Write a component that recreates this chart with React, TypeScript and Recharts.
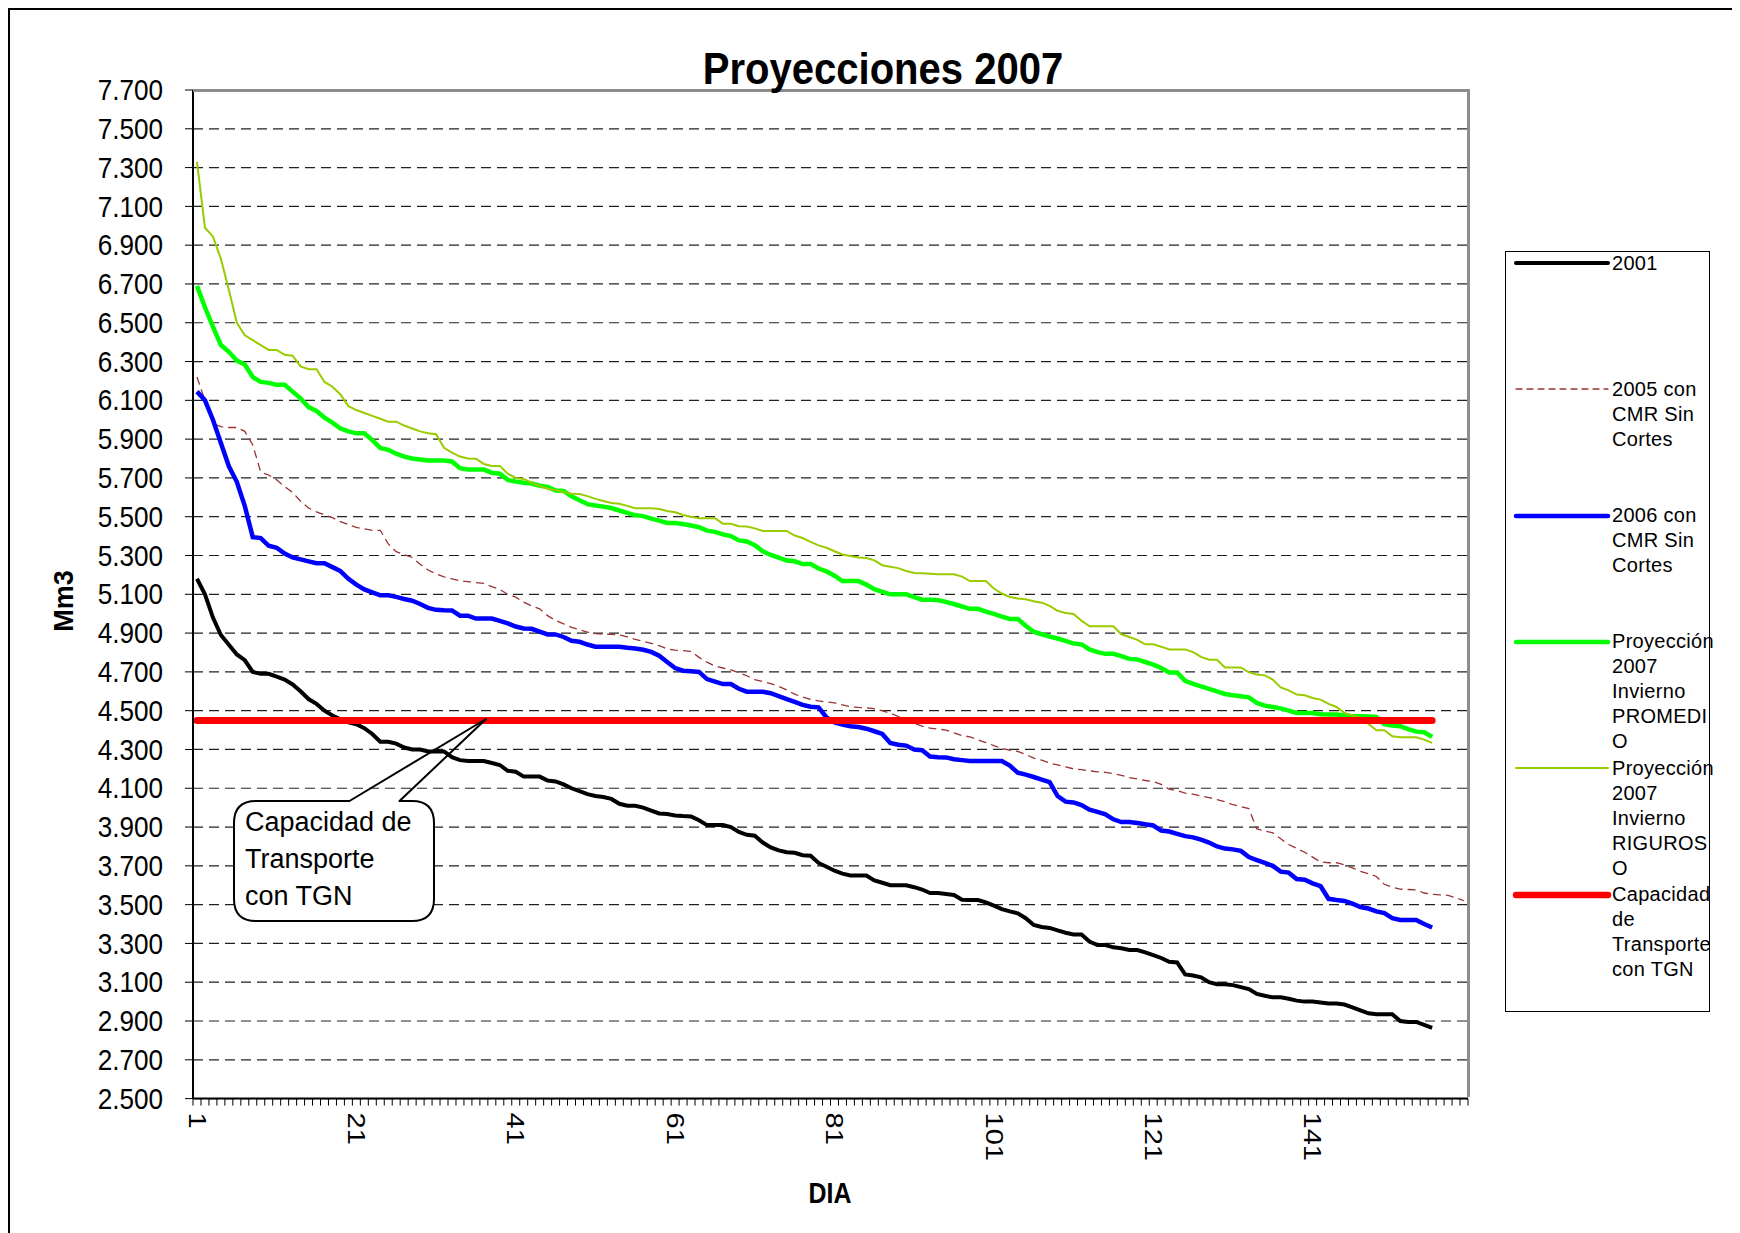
import React from "react";
import { CartesianGrid, Line, LineChart, XAxis, YAxis } from "recharts";

// Curvas de demanda ordenadas (Mm3 por día)
const SERIE_2001 = [
  5.18, 5.1, 4.98, 4.89, 4.84, 4.79, 4.76, 4.7, 4.69, 4.69,
  4.675, 4.66, 4.635, 4.6, 4.56, 4.535, 4.5, 4.475, 4.455, 4.44,
  4.43, 4.41, 4.38, 4.34, 4.34, 4.33, 4.31, 4.3, 4.3, 4.29,
  4.29, 4.29, 4.26, 4.245, 4.24, 4.24, 4.24, 4.23, 4.22, 4.19,
  4.185, 4.16, 4.16, 4.16, 4.14, 4.135, 4.12, 4.1, 4.085, 4.07,
  4.06, 4.055, 4.045, 4.02, 4.01, 4.01, 4.0, 3.985, 3.97, 3.967,
  3.96, 3.957, 3.955, 3.935, 3.91, 3.91, 3.91, 3.9, 3.875, 3.86,
  3.855, 3.82, 3.795, 3.78, 3.77, 3.767, 3.755, 3.752, 3.715, 3.695,
  3.675, 3.66, 3.65, 3.65, 3.65, 3.625, 3.613, 3.6, 3.6, 3.6,
  3.59, 3.578, 3.56, 3.56, 3.555, 3.55, 3.525, 3.524, 3.524, 3.512,
  3.495, 3.477, 3.465, 3.455, 3.43, 3.395, 3.385, 3.38, 3.367, 3.355,
  3.346, 3.346, 3.31, 3.292, 3.292, 3.28, 3.275, 3.266, 3.266, 3.254,
  3.24, 3.225, 3.205, 3.202, 3.14, 3.135, 3.125, 3.1, 3.09, 3.09,
  3.085, 3.075, 3.065, 3.04, 3.03, 3.022, 3.022, 3.015, 3.005, 3.0,
  3.0, 2.995, 2.99, 2.99, 2.985, 2.97, 2.955, 2.94, 2.935, 2.935,
  2.935, 2.9, 2.895, 2.895, 2.88, 2.865,
];

const SERIE_2005 = [
  6.22, 6.1, 5.98, 5.965, 5.96, 5.96, 5.94, 5.87, 5.73, 5.715,
  5.69, 5.655, 5.625, 5.58, 5.545, 5.525, 5.51, 5.495, 5.475, 5.46,
  5.445, 5.437, 5.43, 5.43, 5.36, 5.32, 5.305, 5.29, 5.255, 5.225,
  5.205, 5.19, 5.18, 5.17, 5.165, 5.16, 5.156, 5.14, 5.125, 5.1,
  5.085, 5.06, 5.04, 5.025, 4.99, 4.965, 4.948, 4.93, 4.918, 4.905,
  4.897, 4.895, 4.893, 4.89, 4.88, 4.868, 4.857, 4.847, 4.835, 4.818,
  4.812, 4.81, 4.806, 4.775, 4.75, 4.73, 4.72, 4.71, 4.695, 4.68,
  4.66, 4.65, 4.64, 4.625, 4.607, 4.585, 4.57, 4.558, 4.55, 4.545,
  4.54, 4.53, 4.52, 4.517, 4.515, 4.51, 4.5, 4.487, 4.47, 4.455,
  4.435, 4.42, 4.41, 4.405, 4.4, 4.385, 4.372, 4.365, 4.35, 4.335,
  4.32, 4.305, 4.297, 4.29, 4.275, 4.255, 4.245, 4.23, 4.22, 4.21,
  4.2, 4.196, 4.19, 4.185, 4.182, 4.175, 4.167, 4.155, 4.148, 4.14,
  4.135, 4.12, 4.095, 4.088, 4.075, 4.07, 4.06, 4.052, 4.042, 4.03,
  4.015, 4.005, 3.995, 3.89, 3.88, 3.87, 3.84, 3.81, 3.79, 3.77,
  3.745, 3.72, 3.716, 3.716, 3.705, 3.69, 3.672, 3.66, 3.645, 3.605,
  3.59, 3.58, 3.578, 3.576, 3.56, 3.553, 3.55, 3.548, 3.535, 3.52,
];

const SERIE_2006 = [
  6.145, 6.1, 6.0, 5.88, 5.76, 5.68, 5.555, 5.395, 5.39, 5.35,
  5.34, 5.31, 5.29, 5.28, 5.27, 5.26, 5.26, 5.24, 5.22, 5.18,
  5.15, 5.125, 5.11, 5.095, 5.095, 5.087, 5.076, 5.067, 5.05, 5.03,
  5.02, 5.018, 5.017, 4.99, 4.99, 4.975, 4.975, 4.975, 4.963, 4.95,
  4.934, 4.924, 4.922, 4.907, 4.893, 4.893, 4.88, 4.86, 4.855, 4.841,
  4.83, 4.83, 4.83, 4.83, 4.824, 4.82, 4.814, 4.803, 4.783, 4.751,
  4.72, 4.706, 4.703, 4.7, 4.663, 4.65, 4.637, 4.637, 4.613, 4.598,
  4.598, 4.598, 4.59, 4.575, 4.56, 4.545, 4.53, 4.52, 4.517, 4.465,
  4.44, 4.428, 4.42, 4.416, 4.407, 4.394, 4.38, 4.333, 4.324, 4.32,
  4.3, 4.296, 4.264, 4.26, 4.259, 4.25, 4.245, 4.24, 4.24, 4.24,
  4.24, 4.24, 4.217, 4.18, 4.17, 4.158, 4.145, 4.132, 4.06, 4.031,
  4.027, 4.013, 3.99, 3.978, 3.966, 3.94, 3.926, 3.926, 3.921, 3.914,
  3.908, 3.882, 3.877, 3.865, 3.853, 3.847, 3.835, 3.82, 3.8, 3.789,
  3.785, 3.777, 3.745, 3.73, 3.715, 3.7, 3.67, 3.665, 3.632, 3.628,
  3.61, 3.595, 3.53, 3.524, 3.519, 3.505, 3.488, 3.48, 3.465, 3.456,
  3.43, 3.421, 3.421, 3.421, 3.4, 3.382,
];

const PROMEDIO_2007 = [
  6.69, 6.58, 6.48, 6.385, 6.35, 6.305, 6.285, 6.22, 6.195, 6.19,
  6.18, 6.18, 6.145, 6.11, 6.065, 6.045, 6.01, 5.985, 5.955, 5.94,
  5.93, 5.93, 5.895, 5.855, 5.845, 5.825, 5.81, 5.8, 5.795, 5.79,
  5.79, 5.79, 5.785, 5.75, 5.743, 5.743, 5.743, 5.727, 5.722, 5.69,
  5.681, 5.675, 5.671, 5.66, 5.654, 5.635, 5.633, 5.605, 5.585, 5.565,
  5.558, 5.552, 5.545, 5.532, 5.52, 5.507, 5.503, 5.49, 5.48, 5.468,
  5.467, 5.462, 5.455, 5.446, 5.428, 5.422, 5.409, 5.4, 5.378, 5.372,
  5.353, 5.322, 5.303, 5.289, 5.274, 5.27, 5.256, 5.256, 5.233, 5.218,
  5.196, 5.168, 5.168, 5.168, 5.15, 5.126, 5.113, 5.1, 5.1, 5.1,
  5.085, 5.072, 5.072, 5.07, 5.06, 5.05, 5.037, 5.025, 5.025, 5.011,
  4.999, 4.985, 4.973, 4.973, 4.938, 4.907, 4.894, 4.882, 4.872, 4.86,
  4.846, 4.842, 4.816, 4.802, 4.793, 4.793, 4.781, 4.767, 4.764, 4.751,
  4.737, 4.72, 4.697, 4.697, 4.654, 4.638, 4.625, 4.612, 4.6, 4.586,
  4.58, 4.574, 4.569, 4.54, 4.526, 4.519, 4.512, 4.5, 4.488, 4.488,
  4.488, 4.482, 4.48, 4.48, 4.475, 4.471, 4.471, 4.47, 4.468, 4.43,
  4.423, 4.42, 4.405, 4.392, 4.389, 4.365,
];

const RIGUROSO_2007 = [
  7.33, 6.99, 6.945, 6.83, 6.67, 6.5, 6.435, 6.41, 6.385, 6.36,
  6.36, 6.335, 6.33, 6.275, 6.26, 6.26, 6.195, 6.17, 6.13, 6.07,
  6.05, 6.035, 6.02, 6.005, 5.99, 5.99, 5.97, 5.955, 5.94, 5.93,
  5.925, 5.855, 5.83, 5.81, 5.8, 5.799, 5.772, 5.762, 5.762, 5.722,
  5.7, 5.695, 5.675, 5.658, 5.644, 5.637, 5.627, 5.619, 5.617, 5.606,
  5.592, 5.581, 5.571, 5.567, 5.556, 5.544, 5.544, 5.544, 5.54, 5.529,
  5.523, 5.509, 5.5, 5.492, 5.492, 5.492, 5.464, 5.464, 5.451, 5.45,
  5.44, 5.427, 5.427, 5.427, 5.427, 5.403, 5.39, 5.37, 5.352, 5.34,
  5.322, 5.305, 5.298, 5.29, 5.287, 5.275, 5.25, 5.242, 5.235, 5.22,
  5.21, 5.209, 5.206, 5.203, 5.203, 5.203, 5.191, 5.168, 5.168, 5.168,
  5.13, 5.104, 5.086, 5.078, 5.074, 5.064, 5.057, 5.04, 5.015, 5.003,
  4.999, 4.964, 4.935, 4.935, 4.935, 4.935, 4.894, 4.88, 4.865, 4.842,
  4.842, 4.83, 4.816, 4.816, 4.816, 4.802, 4.777, 4.763, 4.763, 4.723,
  4.723, 4.723, 4.698, 4.686, 4.682, 4.66, 4.62, 4.605, 4.583, 4.579,
  4.565, 4.557, 4.535, 4.519, 4.488, 4.475, 4.463, 4.433, 4.399, 4.399,
  4.368, 4.363, 4.363, 4.363, 4.351, 4.334,
];

const CAPACIDAD_TGN = 4.45;

const Y_TICKS = [
  2.5, 2.7, 2.9, 3.1, 3.3, 3.5, 3.7, 3.9, 4.1, 4.3, 4.5, 4.7, 4.9, 5.1,
  5.3, 5.5, 5.7, 5.9, 6.1, 6.3, 6.5, 6.7, 6.9, 7.1, 7.3, 7.5, 7.7,
];
const X_LABELS = [1, 21, 41, 61, 81, 101, 121, 141];

const DAY_COUNT = SERIE_2005.length;
const data = SERIE_2005.map((v, i) => ({
  day: i + 1,
  s2001: SERIE_2001[i],
  s2005: v,
  s2006: SERIE_2006[i],
  promedio: PROMEDIO_2007[i],
  riguroso: RIGUROSO_2007[i],
  capacidad: i < SERIE_2001.length ? CAPACIDAD_TGN : undefined,
}));

// tick marks sit between the days, like the original
const X_MARKS = Array.from({ length: DAY_COUNT + 1 }, (_, i) => i + 0.5);

const FONT = "'Liberation Sans', Arial, sans-serif";
const W = 1732;
const H = 1225;
const PLOT = { left: 185, top: 82, right: 1460, bottom: 1090.6 };
const HALF_STEP = (PLOT.right - PLOT.left) / DAY_COUNT / 2;

const LEGEND = [
  { lines: ["2001"], stroke: "#000000", width: 4 },
  { lines: ["2005 con", "CMR Sin", "Cortes"], stroke: "#993333", width: 1.3, dash: "6 5" },
  { lines: ["2006 con", "CMR Sin", "Cortes"], stroke: "#0000ff", width: 4.5 },
  { lines: ["Proyección", "2007", "Invierno", "PROMEDI", "O"], stroke: "#00ff00", width: 4.5 },
  { lines: ["Proyección", "2007", "Invierno", "RIGUROS", "O"], stroke: "#99cc00", width: 2 },
  { lines: ["Capacidad", "de", "Transporte", "con TGN"], stroke: "#ff0000", width: 6.5, round: true },
];

function DayTick(props: any) {
  const { x, y, payload } = props;
  const day = payload.value + 0.5;
  if (!X_LABELS.includes(day)) return <g />;
  return (
    <text
      transform={`translate(${x + HALF_STEP},${y}) rotate(90) scale(1,0.82)`}
      textAnchor="start"
      dy="0.35em"
      fontSize={29}
      fontFamily={FONT}
      fill="#000"
    >
      {day}
    </text>
  );
}

function ValueTick(props: any) {
  const { x, y, payload } = props;
  return (
    <text
      transform={`translate(${x},${y}) scale(0.87,1)`}
      textAnchor="end"
      dominantBaseline="central"
      fontSize={30}
      fontFamily={FONT}
      fill="#000"
    >
      {Number(payload.value).toFixed(3)}
    </text>
  );
}

function Legend() {
  return (
    <div
      style={{
        position: "absolute",
        left: 1497,
        top: 243,
        width: 205,
        height: 761,
        border: "1px solid #000",
        boxSizing: "border-box",
        background: "#fff",
        fontFamily: FONT,
        fontSize: 20,
        letterSpacing: 0.3,
        color: "#000",
      }}
    >
      {LEGEND.map((item, i) => {
        const cy = 11 + i * 126.3;
        return (
          <div key={i}>
            <svg
              width={100}
              height={12}
              style={{ position: "absolute", left: 6, top: cy - 6 }}
            >
              <line
                x1={4}
                x2={96}
                y1={6}
                y2={6}
                stroke={item.stroke}
                strokeWidth={item.width}
                strokeDasharray={item.dash}
                strokeLinecap="round"
              />
            </svg>
            <div
              style={{
                position: "absolute",
                left: 106,
                top: cy - 12.5,
                lineHeight: "25px",
                whiteSpace: "nowrap",
              }}
            >
              {item.lines.map((t, j) => (
                <div key={j}>{t}</div>
              ))}
            </div>
          </div>
        );
      })}
    </div>
  );
}

function Overlay() {
  return (
    <svg
      width={W}
      height={H}
      style={{ position: "absolute", left: 0, top: 0, pointerEvents: "none" }}
    >
      <text
        transform="translate(875,76) scale(0.91,1)"
        textAnchor="middle"
        fontSize={44}
        fontWeight="bold"
        fontFamily={FONT}
        fill="#000"
      >
        Proyecciones 2007
      </text>
      <text
        transform="translate(56,593) rotate(-90)"
        textAnchor="middle"
        dominantBaseline="central"
        fontSize={27}
        fontWeight="bold"
        fontFamily={FONT}
        fill="#000"
      >
        Mm3
      </text>
      <text
        transform="translate(822,1185) scale(0.86,1)"
        textAnchor="middle"
        dominantBaseline="central"
        fontSize={29}
        fontWeight="bold"
        fontFamily={FONT}
        fill="#000"
      >
        DIA
      </text>

      {/* llamada "Capacidad de Transporte con TGN" */}
      <rect x={226} y={793} width={200} height={120} rx={22} fill="#fff" />
      <path
        d="M248,793 L341.5,793 L478,711 L391.5,793 L404,793 Q426,793 426,815 L426,891 Q426,913 404,913 L248,913 Q226,913 226,891 L226,815 Q226,793 248,793 Z"
        fill="none"
        stroke="#000"
        strokeWidth={2}
        strokeLinejoin="round"
      />
      <g fontSize={27} fontFamily={FONT} fill="#000">
        <text x={237} y={823}>Capacidad de</text>
        <text x={237} y={860}>Transporte</text>
        <text x={237} y={897}>con TGN</text>
      </g>
    </svg>
  );
}

export default function App() {
  return (
    <div style={{ position: "relative", width: W, height: H, background: "#fff", overflow: "hidden" }}>
      <LineChart
        width={W}
        height={H}
        data={data}
        margin={{ top: PLOT.top, right: W - PLOT.right, bottom: H - PLOT.bottom - 100, left: 0 }}
      >
        <CartesianGrid
          vertical={false}
          stroke="#222"
          strokeWidth={1.2}
          strokeDasharray="10 6"
        />
        <XAxis
          dataKey="day"
          type="number"
          domain={[0.5, DAY_COUNT + 0.5]}
          ticks={X_MARKS}
          interval={0}
          height={100}
          tickSize={7}
          tickMargin={7}
          tick={DayTick}
          axisLine={{ stroke: "#000", strokeWidth: 2 }}
          tickLine={{ stroke: "#000" }}
        />
        <YAxis
          type="number"
          domain={[2.5, 7.7]}
          ticks={Y_TICKS}
          interval={0}
          width={PLOT.left}
          tickSize={8}
          tickMargin={22}
          tick={ValueTick}
          axisLine={{ stroke: "#000", strokeWidth: 2 }}
          tickLine={{ stroke: "#000" }}
        />
        <Line type="linear" dataKey="s2001" stroke="#000000" strokeWidth={4} dot={false} activeDot={false} isAnimationActive={false} />
        <Line type="linear" dataKey="s2005" stroke="#993333" strokeWidth={1.3} strokeDasharray="8 5" dot={false} activeDot={false} isAnimationActive={false} />
        <Line type="linear" dataKey="s2006" stroke="#0000ff" strokeWidth={4.5} dot={false} activeDot={false} isAnimationActive={false} />
        <Line type="linear" dataKey="promedio" stroke="#00ff00" strokeWidth={4.5} dot={false} activeDot={false} isAnimationActive={false} />
        <Line type="linear" dataKey="riguroso" stroke="#99cc00" strokeWidth={2} dot={false} activeDot={false} isAnimationActive={false} />
        <Line type="linear" dataKey="capacidad" stroke="#ff0000" strokeWidth={7} strokeLinecap="round" dot={false} activeDot={false} isAnimationActive={false} />
      </LineChart>
      <div
        style={{
          position: "absolute",
          left: PLOT.left,
          top: PLOT.top - 1.5,
          width: PLOT.right - PLOT.left + 1.5,
          height: PLOT.bottom - PLOT.top,
          borderTop: "3px solid #8c8c8c",
          borderRight: "3px solid #8c8c8c",
          boxSizing: "border-box",
          pointerEvents: "none",
        }}
      />
      <div
        style={{
          position: "absolute",
          left: 0,
          top: 0,
          width: W,
          height: H,
          borderTop: "2px solid #000",
          borderLeft: "2px solid #000",
          boxSizing: "border-box",
          pointerEvents: "none",
        }}
      />
      <Overlay />
      <Legend />
    </div>
  );
}
